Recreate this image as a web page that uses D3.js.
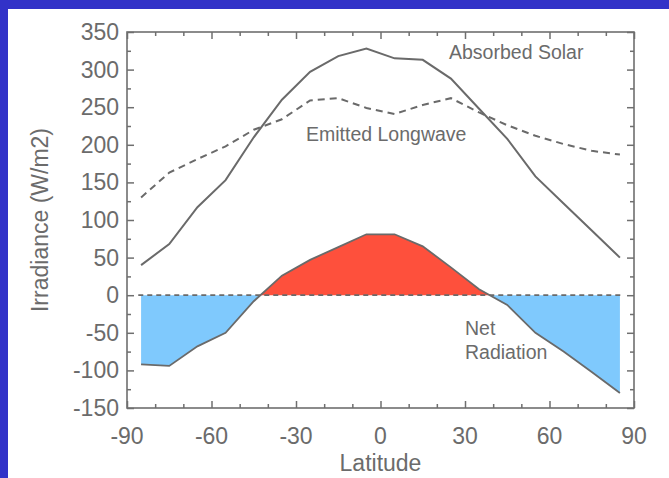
<!DOCTYPE html>
<html>
<head>
<meta charset="utf-8">
<script src="https://cdn.jsdelivr.net/npm/d3@7"></script>
<style>
  html, body { margin: 0; padding: 0; background: #3232c8; }
  svg { display: block; }
  text { font-family: "Liberation Sans", Arial, Helvetica, sans-serif; fill: #6b6b6b; }
</style>
</head>
<body>
<script>
// ---- data ----
const latitudes       = [-85, -75, -65, -55, -45, -35, -25, -15, -5, 5, 15, 25, 35, 45, 55, 65, 75, 85];
const absorbedSolar   = [40, 68, 117, 153, 210, 260, 297, 318, 328, 315, 313, 288, 248, 208, 158, 122, 86, 50];
const emittedLongwave = [130, 163, 181, 198, 220, 234, 259, 262, 249, 241, 253, 262, 243, 226, 212, 201, 192, 187];
const netRadiation    = [-92, -94, -68, -50, -8, 26, 47, 64, 81, 81, 65, 37, 8, -13, -50, -75, -102, -130];
const xTickLabels = [-90, -60, -30, 0, 30, 60, 90];
const yTickLabels = [-150, -100, -50, 0, 50, 100, 150, 200, 250, 300, 350];

const W = 669, H = 478;
const svg = d3.select("body").append("svg").attr("width", W).attr("height", H);

// white panel inside blue frame
svg.append("rect").attr("x", 8).attr("y", 9).attr("width", W - 8).attr("height", H - 9).attr("fill", "#ffffff");

const x = d3.scaleLinear().domain([-90, 90]).range([127, 634]);
const y = d3.scaleLinear().domain([-150, 350]).range([408, 32]);

const axisColor = "#6f6f6f";
const lineColor = "#6a6a6a";

// ---- fills for net radiation ----
function clipped(sign) {
  const pts = [];
  for (let i = 0; i < latitudes.length; i++) {
    const v = netRadiation[i];
    if (i > 0) {
      const v0 = netRadiation[i - 1];
      if ((v0 > 0 && v < 0) || (v0 < 0 && v > 0)) {
        const t = v0 / (v0 - v);
        const lat = latitudes[i - 1] + t * (latitudes[i] - latitudes[i - 1]);
        pts.push([lat, 0]);
      }
    }
    pts.push([latitudes[i], sign > 0 ? Math.max(v, 0) : Math.min(v, 0)]);
  }
  return pts;
}
const area = d3.area().x(d => x(d[0])).y0(y(0)).y1(d => y(d[1]));
svg.append("path").attr("d", area(clipped(-1))).attr("fill", "#7fc9fd");
svg.append("path").attr("d", area(clipped(1))).attr("fill", "#fe503c");

// ---- lines ----
const line = d3.line().x(d => x(d[0])).y(d => y(d[1]));
const zip = arr => latitudes.map((l, i) => [l, arr[i]]);

svg.append("path").attr("d", line(zip(netRadiation)))
  .attr("fill", "none").attr("stroke", lineColor).attr("stroke-width", 1.8);

svg.append("path").attr("d", line([[-86, 0], [86, 0]]))
  .attr("fill", "none").attr("stroke", lineColor).attr("stroke-width", 1.8)
  .attr("stroke-dasharray", "5,4");

svg.append("path").attr("d", line(zip(absorbedSolar)))
  .attr("fill", "none").attr("stroke", lineColor).attr("stroke-width", 2);

svg.append("path").attr("d", line(zip(emittedLongwave)))
  .attr("fill", "none").attr("stroke", lineColor).attr("stroke-width", 2)
  .attr("stroke-dasharray", "7,5");

// ---- axes (ticks inward on all four sides) ----
const xMajor = xTickLabels;
const xMinor = d3.range(-80, 90, 10).filter(v => v % 30 !== 0);
const yMajor = yTickLabels;
const yMinor = d3.range(-125, 350, 50);

function addAxis(axisGen, transform) {
  const g = svg.append("g").attr("transform", transform).call(axisGen);
  g.select(".domain").remove();
  g.selectAll("line").attr("stroke", axisColor).attr("stroke-width", 1.5);
  g.selectAll("text").remove();
  return g;
}
// bottom
addAxis(d3.axisBottom(x).tickValues(xMajor).tickSize(-7), `translate(0,${y(-150)})`);
addAxis(d3.axisBottom(x).tickValues(xMinor).tickSize(-4), `translate(0,${y(-150)})`);
// top
addAxis(d3.axisTop(x).tickValues(xMajor).tickSize(-7), `translate(0,${y(350)})`);
addAxis(d3.axisTop(x).tickValues(xMinor).tickSize(-4), `translate(0,${y(350)})`);
// left
addAxis(d3.axisLeft(y).tickValues(yMajor).tickSize(-7), `translate(${x(-90)},0)`);
addAxis(d3.axisLeft(y).tickValues(yMinor).tickSize(-4), `translate(${x(-90)},0)`);
// right
addAxis(d3.axisRight(y).tickValues(yMajor).tickSize(-7), `translate(${x(90)},0)`);
addAxis(d3.axisRight(y).tickValues(yMinor).tickSize(-4), `translate(${x(90)},0)`);

// frame
svg.append("rect").attr("x", x(-90)).attr("y", y(350))
  .attr("width", x(90) - x(-90)).attr("height", y(-150) - y(350))
  .attr("fill", "none").attr("stroke", axisColor).attr("stroke-width", 1.6);

// tick labels
svg.append("g").selectAll("text").data(xTickLabels).join("text")
  .attr("x", d => x(d)).attr("y", 444)
  .attr("text-anchor", "middle").attr("font-size", 23)
  .text(d => d);
svg.append("g").selectAll("text").data(yTickLabels).join("text")
  .attr("x", 119).attr("y", d => y(d) + 8)
  .attr("text-anchor", "end").attr("font-size", 23)
  .text(d => d);

// axis titles
svg.append("text").attr("x", x(0)).attr("y", 471)
  .attr("text-anchor", "middle").attr("font-size", 23).text("Latitude");
svg.append("text").attr("transform", `translate(48,${(y(350) + y(-150)) / 2}) rotate(-90)`)
  .attr("text-anchor", "middle").attr("font-size", 23).text("Irradiance (W/m2)");

// annotations
svg.append("text").attr("x", 449).attr("y", 59).attr("font-size", 19.5).text("Absorbed Solar");
svg.append("text").attr("x", 306).attr("y", 141).attr("font-size", 19.5).text("Emitted Longwave");
svg.append("text").attr("x", 465).attr("y", 335).attr("font-size", 19.5).text("Net");
svg.append("text").attr("x", 465).attr("y", 359).attr("font-size", 19.5).text("Radiation");
</script>
</body>
</html>
